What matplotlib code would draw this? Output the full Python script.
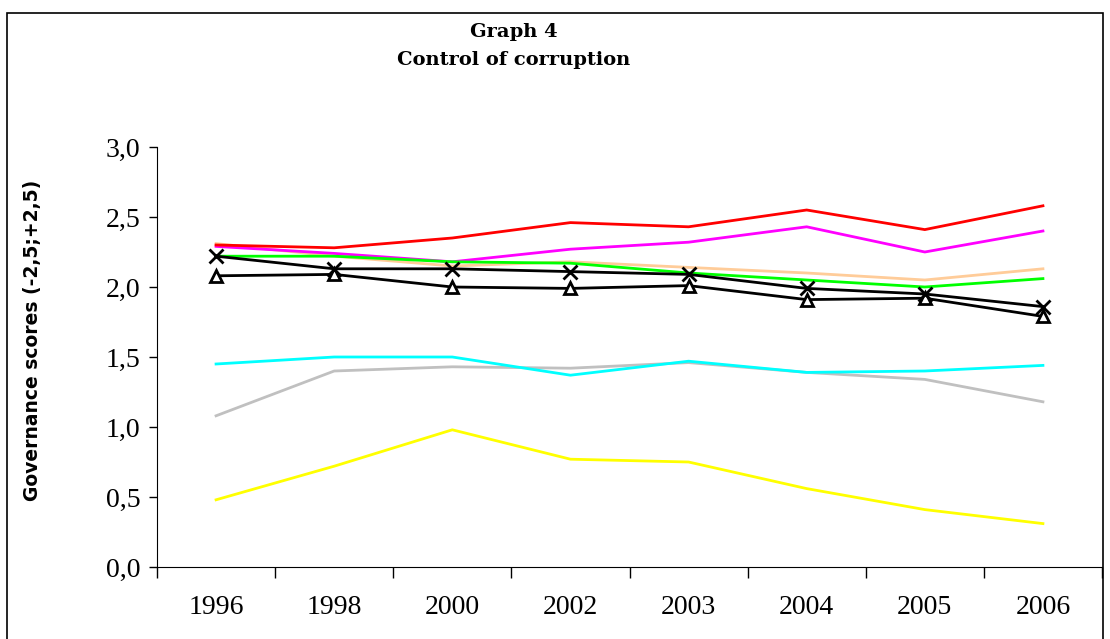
import numpy as np
import matplotlib
matplotlib.use("Agg")
import matplotlib.pyplot as plt
from matplotlib.patches import Rectangle
from matplotlib.ticker import FuncFormatter

years = ["1996", "1998", "2000", "2002", "2003", "2004", "2005", "2006"]

red = [2.30, 2.28, 2.35, 2.46, 2.43, 2.55, 2.41, 2.58]
magenta = [2.29, 2.24, 2.18, 2.27, 2.32, 2.43, 2.25, 2.40]
peach = [2.31, 2.22, 2.15, 2.18, 2.14, 2.10, 2.05, 2.13]
green = [2.22, 2.22, 2.18, 2.17, 2.10, 2.05, 2.00, 2.06]
black_x = [2.22, 2.13, 2.13, 2.11, 2.09, 1.99, 1.95, 1.86]
black_tri = [2.08, 2.09, 2.00, 1.99, 2.01, 1.91, 1.92, 1.79]
cyan = [1.45, 1.50, 1.50, 1.37, 1.47, 1.39, 1.40, 1.44]
gray = [1.08, 1.40, 1.43, 1.42, 1.46, 1.39, 1.34, 1.18]
yellow = [0.48, 0.72, 0.98, 0.77, 0.75, 0.56, 0.41, 0.31]

fig = plt.figure(figsize=(11.1, 6.39), dpi=100)
ax = fig.add_axes([157/1110, 1 - 567/639, (1102 - 157)/1110, (567 - 147)/639])

x = np.arange(len(years))
lw = 2.0
ax.plot(x, yellow, color="#FFFF00", lw=lw)
ax.plot(x, gray, color="#C0C0C0", lw=lw)
ax.plot(x, cyan, color="#00FFFF", lw=lw)
ax.plot(x, peach, color="#FFCC99", lw=lw)
ax.plot(x, magenta, color="#FF00FF", lw=lw)
ax.plot(x, green, color="#00FF00", lw=lw)
ax.plot(x, red, color="#FF0000", lw=lw)
ax.plot(x, black_tri, color="black", lw=lw, marker="^", ms=9,
        mfc="white", mec="black", mew=2)
ax.plot(x, black_x, color="black", lw=lw, marker="x", ms=10, mew=2)

ax.set_xlim(-0.5, len(years) - 0.5)
ax.set_ylim(0, 3.0)
ax.set_yticks(np.arange(0, 3.01, 0.5))
ax.yaxis.set_major_formatter(FuncFormatter(lambda v, p: f"{v:.1f}".replace(".", ",")))

ax.set_xticks(np.arange(-0.5, len(years), 1))
ax.set_xticklabels([])
ax.set_xticks(x, minor=True)
ax.set_xticklabels(years, minor=True)
ax.tick_params(axis="x", which="major", length=8, width=1, direction="out")
ax.tick_params(axis="x", which="minor", length=0, pad=20)
ax.tick_params(axis="y", length=6, width=1, pad=6)

for lab in ax.get_xticklabels(minor=True) + ax.get_yticklabels():
    lab.set_fontfamily("Liberation Serif")
    lab.set_fontsize(20)

for s in ["top", "right"]:
    ax.spines[s].set_visible(False)

fig.text(514/1110, 1 - 32/639, "Graph 4", ha="center", va="center",
         fontfamily="DejaVu Serif", fontweight="bold", fontsize=14)
fig.text(514/1110, 1 - 60/639, "Control of corruption", ha="center", va="center",
         fontfamily="DejaVu Serif", fontweight="bold", fontsize=14)
fig.text(33/1110, 1 - 340/639, "Governance scores (-2,5;+2,5)", rotation=90,
         ha="center", va="center", fontfamily="DejaVu Sans", fontweight="bold",
         fontsize=13.5)

# outer chart frame
fig.patches.append(Rectangle((7/1110, -0.05), (1103 - 7)/1110, 1.05 - 13/639,
                             transform=fig.transFigure, fill=False,
                             edgecolor="black", lw=1.2))

fig.savefig("out.png", dpi=100)
